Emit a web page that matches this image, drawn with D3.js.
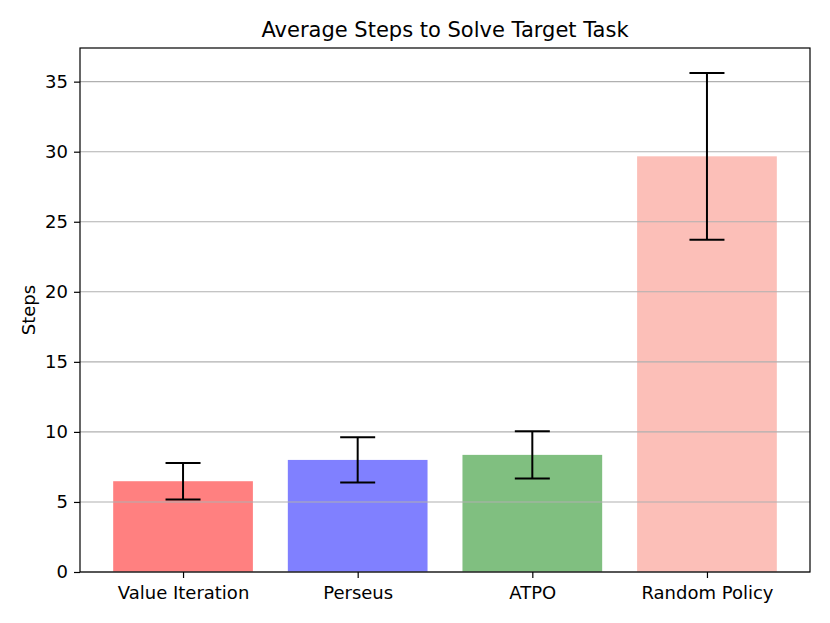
<!DOCTYPE html>
<html>
<head>
<meta charset="utf-8">
<script src="https://cdn.jsdelivr.net/npm/d3@7"></script>
<style>
body { margin: 0; background: #fff; }
text { font-family: "DejaVu Sans", sans-serif; fill: #000; }
</style>
</head>
<body>
<svg id="chart" width="830" height="623"></svg>
<script>
// data
var methods = ['Value Iteration', 'Perseus', 'ATPO', 'Random Policy'];
var meanSteps = [6.48, 8.0, 8.36, 29.67];
var stdSteps = [1.3, 1.61, 1.68, 5.95];
var barColors = ['#ff8080', '#8080ff', '#80bf80', '#fcbfb8'];
var yTicks = [0, 5, 10, 15, 20, 25, 30, 35];

(function () {

var svg = d3.select('#chart');
var left = 80, right = 810, top = 48, bottom = 572;

// matplotlib style limits: bars of width 0.8, 5% margins
var x = d3.scaleLinear().domain([-0.59, methods.length - 1 + 0.59]).range([left, right]);
var yMax = d3.max(meanSteps.map(function (d, i) { return d + stdSteps[i]; })) * 1.05;
var y = d3.scaleLinear().domain([0, yMax]).range([bottom, top]);
var barW = x(0.8) - x(0);

// bars
svg.selectAll('.bar').data(methods).enter().append('rect')
	.attr('class', 'bar')
	.attr('x', function (d, i) { return x(i - 0.4); })
	.attr('width', barW)
	.attr('y', function (d, i) { return y(meanSteps[i]); })
	.attr('height', function (d, i) { return y(0) - y(meanSteps[i]); })
	.attr('fill', function (d, i) { return barColors[i]; });

// horizontal grid, drawn over the bars like the original
svg.selectAll('.grid').data(yTicks).enter().append('line')
	.attr('class', 'grid')
	.attr('x1', left).attr('x2', right)
	.attr('y1', function (d) { return y(d); })
	.attr('y2', function (d) { return y(d); })
	.attr('stroke', '#b0b0b0').attr('stroke-width', 1.1);

// error bars
var cap = 17.5;
var err = svg.selectAll('.err').data(methods).enter().append('g').attr('class', 'err')
	.attr('stroke', '#000').attr('stroke-width', 2);
err.append('line')
	.attr('x1', function (d, i) { return x(i); })
	.attr('x2', function (d, i) { return x(i); })
	.attr('y1', function (d, i) { return y(meanSteps[i] - stdSteps[i]); })
	.attr('y2', function (d, i) { return y(meanSteps[i] + stdSteps[i]); });
[-1, 1].forEach(function (s) {
	err.append('line')
		.attr('x1', function (d, i) { return x(i) - cap; })
		.attr('x2', function (d, i) { return x(i) + cap; })
		.attr('y1', function (d, i) { return y(meanSteps[i] + s * stdSteps[i]); })
		.attr('y2', function (d, i) { return y(meanSteps[i] + s * stdSteps[i]); });
});

// axes
var yAxis = d3.axisLeft(y).tickValues(yTicks).tickSize(6).tickPadding(6);
var gy = svg.append('g').attr('transform', 'translate(' + left + ',0)').call(yAxis);
gy.select('.domain').remove();
gy.selectAll('text').style('font-size', '18px');
gy.selectAll('line').attr('stroke-width', 1.2);

var xAxis = d3.axisBottom(x).tickValues(d3.range(methods.length))
	.tickFormat(function (d) { return methods[d]; }).tickSize(6).tickPadding(8);
var gx = svg.append('g').attr('transform', 'translate(0,' + bottom + ')').call(xAxis);
gx.select('.domain').remove();
gx.selectAll('text').style('font-size', '18px');
gx.selectAll('line').attr('stroke-width', 1.2);

// frame
svg.append('rect')
	.attr('x', left).attr('y', top)
	.attr('width', right - left).attr('height', bottom - top)
	.attr('fill', 'none').attr('stroke', '#000').attr('stroke-width', 1.2);

// title & label
svg.append('text')
	.attr('x', (left + right) / 2).attr('y', 37)
	.attr('text-anchor', 'middle')
	.style('font-size', '21px')
	.text('Average Steps to Solve Target Task');

svg.append('text')
	.attr('transform', 'translate(35,' + ((top + bottom) / 2) + ') rotate(-90)')
	.attr('text-anchor', 'middle')
	.style('font-size', '18px')
	.text('Steps');

})();
</script>
</body>
</html>
